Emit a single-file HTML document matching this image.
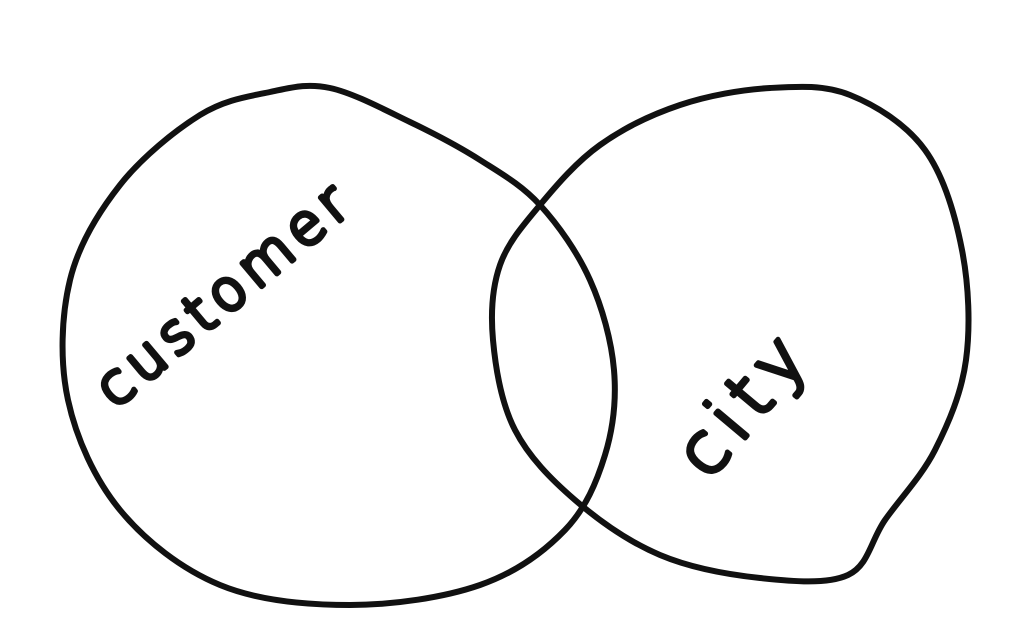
<!DOCTYPE html>
<html><head><meta charset="utf-8"><style>
html,body{margin:0;padding:0;background:#fff;}
svg{display:block;}
text{font-family:"DejaVu Sans","Liberation Sans",sans-serif;fill:#fff;stroke:#111;stroke-width:5;stroke-linecap:round;stroke-linejoin:round;font-weight:200;}
</style></head><body>
<svg id="venn" width="1024" height="641" viewBox="0 0 1024 641">
<path id="left" fill="none" stroke="#111" stroke-width="6" stroke-linecap="round"/>
<path id="right" fill="none" stroke="#111" stroke-width="6" stroke-linecap="round"/>
<text x="0" y="0" font-size="56" letter-spacing="10" transform="translate(228,295) rotate(-40)" text-anchor="middle" dominant-baseline="middle" textLength="320" lengthAdjust="spacing">customer</text>
<text x="0" y="0" font-size="70" letter-spacing="10" transform="translate(748,405) rotate(-50)" text-anchor="middle" dominant-baseline="middle">city</text>
</svg>
<script>
const leftPts=[[330,88],[410,122],[480,160],[540,205],[590,280],[614,370],[605,455],[565,530],[480,585],[350,605],[220,585],[120,510],[68,400],[70,280],[120,185],[200,115],[270,92]];
const rightPts=[[540,205],[600,145],[680,105],[770,88],[850,95],[925,150],[962,250],[966,360],[935,450],[885,520],[848,575],[760,578],[660,555],[575,500],[515,430],[493,340],[500,265]];
function smooth(p,closed){
  const n=p.length;let d=`M${p[0][0]},${p[0][1]}`;
  const g=i=>p[(i+n)%n];
  for(let i=0;i<(closed?n:n-1);i++){
    const p0=g(i-1),p1=g(i),p2=g(i+1),p3=g(i+2);
    const c1=[p1[0]+(p2[0]-p0[0])/6,p1[1]+(p2[1]-p0[1])/6];
    const c2=[p2[0]-(p3[0]-p1[0])/6,p2[1]-(p3[1]-p1[1])/6];
    d+=` C${c1[0]},${c1[1]} ${c2[0]},${c2[1]} ${p2[0]},${p2[1]}`;
  }
  return d;
}
document.getElementById('left').setAttribute('d',smooth(leftPts,true));
document.getElementById('right').setAttribute('d',smooth(rightPts,true));
</script>
</body></html>
